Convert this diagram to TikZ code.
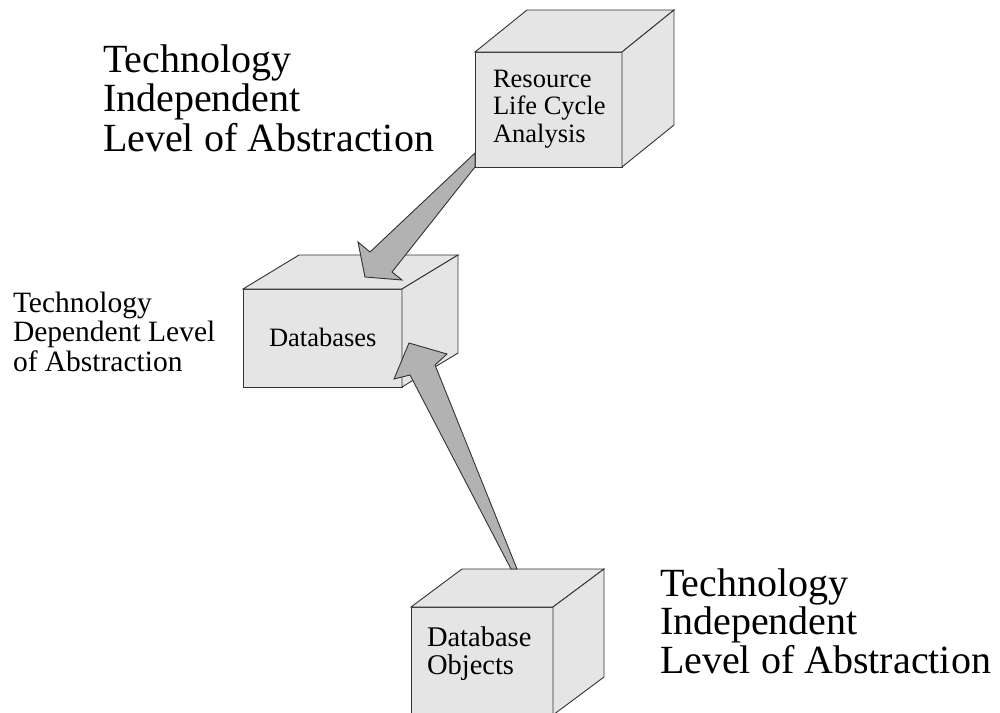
\documentclass[tikz,border=0pt]{standalone}
\usepackage{fontspec}
\setmainfont{Liberation Serif}
\usetikzlibrary{calc}

\tikzset{
  x=1pt, y=-1pt,
  faceline/.style={draw=black!80, line width=0.9pt, line join=miter},
  cubeface/.style={faceline, fill=black!10},
  cubefront/.style={cubeface, rectangle, inner sep=0pt, outer sep=0pt, anchor=north west},
  blockarrow/.style={faceline, fill=black!30},
  textblock/.style={anchor=base west, inner sep=0pt, outer sep=0pt},
  bigtext/.style={textblock, font=\fontsize{40}{39.5}\selectfont},
  bigtextb/.style={textblock, font=\fontsize{40}{36}\selectfont},
  midtext/.style={textblock, font=\fontsize{29.5}{29.5}\selectfont},
  boxtext/.style={textblock, font=\fontsize{26.5}{27.5}\selectfont},
  boxtextb/.style={textblock, font=\fontsize{28.5}{28}\selectfont},
}

% a cube: front face node plus its top and right faces
\newcommand{\cubefaces}[3]{% node name, depth dx, depth dy (upwards)
  \draw[cubeface] (#1.north west) -- ++(#2,-#3) -- ($(#1.north east)+(#2,-#3)$)
        -- (#1.north east) -- cycle;
  \draw[cubeface] (#1.north east) -- ++(#2,-#3) -- ($(#1.south east)+(#2,-#3)$)
        -- (#1.south east) -- cycle;
}

\begin{document}
\begin{tikzpicture}
\path[use as bounding box] (0,0) rectangle (1000,712);
\clip (0,0) rectangle (1000,712);

% cubes
\node[cubefront, minimum width=147pt, minimum height=115pt] (rlca) at (475,52) {};
\cubefaces{rlca}{52}{42}
\node[cubefront, minimum width=159pt, minimum height=98pt] (db) at (243,289) {};
\cubefaces{db}{56}{34}
\node[cubefront, minimum width=142pt, minimum height=108pt] (dbo) at (411,607) {};
\cubefaces{dbo}{51}{38}

% labels inside the cubes
\node[boxtext] (rlcatext) at (493,87)
  {\begin{tabular}[t]{@{}l@{}}Resource\\Life Cycle\\Analysis\end{tabular}};
\node[boxtext] (dbtext) at (269,346) {Databases};
\node[boxtextb] (dbotext) at (427,646)
  {\begin{tabular}[t]{@{}l@{}}Database\\Objects\end{tabular}};

% block arrows
\coordinate (a1tailtop) at ($(rlca.south west)+(0,-14)$);
\coordinate (a1tailbot) at (rlca.south west);
\coordinate (a1tip) at (365,277);
\filldraw[blockarrow] (a1tailtop) -- (370,252) -- (358,242) -- (a1tip)
  -- (402,280) -- (392,272) -- (a1tailbot) -- cycle;

\coordinate (a2tailleft) at (511,569);
\coordinate (a2tailright) at (517,569);
\coordinate (a2tip) at (409,343);
\filldraw[blockarrow] (a2tailleft) -- (410,375) -- (394,379) -- (a2tip)
  -- (447,354) -- (435,365) -- (a2tailright) -- cycle;

% level captions
\node[bigtext] (toplevel) at (103,72)
  {\begin{tabular}[t]{@{}l@{}}Technology\\Independent\\Level of Abstraction\end{tabular}};
\node[midtext] (midlevel) at (13,312)
  {\begin{tabular}[t]{@{}l@{}}Technology\\Dependent Level\\of Abstraction\end{tabular}};
\node[bigtextb] (botlevel) at (660,596)
  {\begin{tabular}[t]{@{}l@{}}Technology\\Independent\\Level of Abstraction\end{tabular}};
\end{tikzpicture}
\end{document}
